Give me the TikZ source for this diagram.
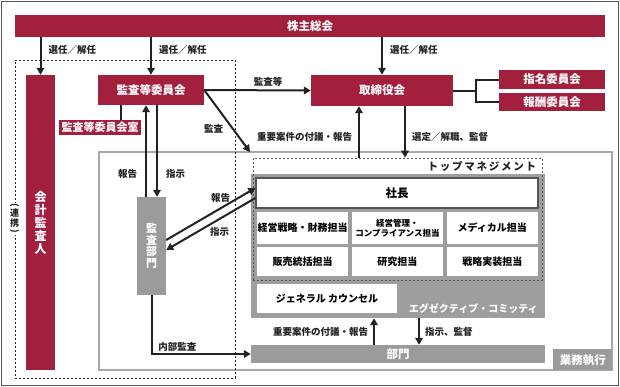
\documentclass[tikz,border=0pt]{standalone}
\usepackage{fontspec}
\usepackage{graphicx}
\setmainfont{Noto Sans CJK JP}
\usetikzlibrary{positioning, arrows.meta, calc}
\definecolor{boardred}{HTML}{A31F3E}
\definecolor{deptgray}{HTML}{9B9B9B}
\definecolor{execgray}{HTML}{9E9E9E}
\definecolor{linegray}{HTML}{A8A8A8}
\definecolor{framegray}{HTML}{555555}
\definecolor{txtblack}{HTML}{222222}
\newcommand{\boxfont}{\fontsize{11.5}{13}\selectfont\bfseries}
\newcommand{\cellfont}{\fontsize{10}{12}\selectfont\bfseries}
\newcommand{\lblfont}{\fontsize{9.5}{11}\selectfont\bfseries}
\newcommand{\vparen}[1]{\rotatebox[origin=c]{-90}{#1}}
\tikzset{
  redbox/.style={fill=boardred, text=white, inner sep=0pt, align=center, font=\boxfont},
  graybox/.style={fill=deptgray, text=white, inner sep=0pt, align=center, font=\boxfont},
  unitcell/.style={fill=white, inner sep=0pt, align=center, minimum width=91pt, font=\cellfont},
  dashbox/.style={draw=txtblack, line width=0.8pt, dash pattern=on 2pt off 2pt, inner sep=0pt},
  arr/.style={-{Triangle[length=7pt, width=7.5pt]}, line width=2pt, draw=txtblack},
  plainline/.style={line width=2pt, draw=txtblack},
  lbl/.style={font=\lblfont, text=txtblack, inner sep=1pt}
}

\begin{document}
\begin{tikzpicture}[x=1pt, y=-1pt]

  \useasboundingbox (0,0) rectangle (620,386);
  \draw[framegray, line width=1pt] (1,1) rectangle (618,385);

  \node[draw=linegray, line width=1.2pt, inner sep=0pt, minimum width=513pt, minimum height=218pt] (gyomuzone) at (355.5,261) {};
  \node[graybox, anchor=south east, minimum width=59pt, minimum height=21pt] (gyomu) at (gyomuzone.south east) {業務執行};

  \node[fill=execgray, inner sep=0pt, minimum width=294pt, minimum height=144pt] (execbox) at (398,246) {};
  \node[font=\cellfont, text=white, anchor=east] at ([xshift=-4pt, yshift=10pt]execbox.south east) {エグゼクティブ・コミッティ};
  \node[dashbox, draw=framegray, minimum width=289pt, minimum height=122pt] (topmgmt) at (397.5,219) {};
  \node[lbl, font=\fontsize{10.5}{12}\selectfont\bfseries, anchor=north east] at ([xshift=-5pt, yshift=-3pt]topmgmt.north east) {ト\,ッ\,プ\,マ\,ネ\,ジ\,メ\,ン\,ト};

  \node[draw=framegray, line width=1.2pt, fill=white, inner sep=0pt, minimum width=282pt, minimum height=30pt, font=\boxfont] (shacho) at (397,193) {社長};
  \node[unitcell, minimum height=32pt] (zaimu) at (302.5,228) {経営戦略・財務担当};
  \node[unitcell, minimum height=32pt, right=3.5pt of zaimu, font=\fontsize{8.5}{10}\selectfont\bfseries] (compli) {経営管理・\\コンプライアンス担当};
  \node[unitcell, minimum height=32pt, right=3.5pt of compli] (medical) {メディカル担当};
  \node[unitcell, minimum height=29pt, below=3pt of zaimu] (hanbai) {販売統括担当};
  \node[unitcell, minimum height=29pt, below=3pt of compli] (kenkyu) {研究担当};
  \node[unitcell, minimum height=29pt, below=3pt of medical] (jisso) {戦略実装担当};
  \node[unitcell, minimum width=140pt, minimum height=29pt] (counsel) at (327,298.5) {ジェネラル\ カウンセル};

  \node[graybox, minimum width=294pt, minimum height=18pt] (bumon) at (398,354) {部門};

  \node[dashbox, minimum width=220pt, minimum height=318pt] (auditzone) at (125,219) {};
  \node[fill=white, inner sep=1pt, align=center, text=txtblack, font=\fontsize{9}{10}\selectfont\bfseries] (renkei) at (auditzone.west) {\vparen{(}\\[-2pt]連\\携\\[-2pt]\vparen{)}};

  \node[redbox, minimum width=590pt, minimum height=22pt] (soukai) at (310,26) {株主総会};
  \node[redbox, minimum width=29pt, minimum height=295pt, font=\fontsize{12}{13}\selectfont\bfseries] (kaikei) at (40.5,222.5) {会\\計\\監\\査\\人};
  \node[redbox, minimum width=106pt, minimum height=30pt] (iinkai) at (151,90) {監査等委員会};
  \node[redbox, minimum width=82pt, minimum height=15pt, font=\fontsize{11}{12}\selectfont\bfseries] (iinshitsu) at (100,127.5) {監査等委員会室};
  \node[redbox, minimum width=142pt, minimum height=31pt] (torishimari) at (382,90.5) {取締役会};
  \node[redbox, minimum width=106pt, minimum height=19pt] (shimei) at (552,79.5) {指名委員会};
  \node[redbox, minimum width=106pt, minimum height=18pt, below=4pt of shimei] (houshu) {報酬委員会};
  \node[graybox, minimum width=29pt, minimum height=98pt, font=\fontsize{11}{11.5}\selectfont\bfseries] (kansabu) at (151.5,246) {監\\査\\部\\門};

  \draw[arr] (soukai.south -| kaikei.center) -- (kaikei.north) node[lbl, pos=0.35, right=6pt] {選任／解任};
  \draw[arr] (soukai.south -| iinkai.center) -- (iinkai.north) node[lbl, pos=0.35, right=6pt] {選任／解任};
  \draw[arr] (soukai.south -| torishimari.center) -- (torishimari.north) node[lbl, pos=0.35, right=6pt] {選任／解任};

  \draw[arr] (iinkai.east) -- (torishimari.west) node[lbl, pos=0.6, above=2pt] {監査等};
  \coordinate (kansaTip) at (250,152);
  \draw[arr] (iinkai.east) -- (kansaTip) node[lbl, pos=0.63, left=8pt] {監査};

  \coordinate (brk) at ($(torishimari.east)+(23,0)$);
  \draw[plainline] (torishimari.east) -- (brk);
  \draw[plainline] (shimei.west) -| (brk) |- (houshu.west);

  \coordinate (shitsuTop) at ([xshift=-30pt]iinkai.south);
  \draw[plainline] (shitsuTop) -- (shitsuTop |- iinshitsu.north);

  \coordinate (teian) at ([xshift=-23pt]torishimari.south);
  \coordinate (sentei) at ([xshift=23pt]torishimari.south);
  \draw[arr] (teian |- topmgmt.north) -- (teian) node[lbl, pos=0.4, left=5pt] {重要案件の付議・報告};
  \draw[arr] (sentei) -- (sentei |- topmgmt.north) node[lbl, pos=0.6, right=5pt] {選定／解職、監督};

  \coordinate (hokokuUp) at ([xshift=-5.5pt]kansabu.north);
  \coordinate (shijiDown) at ([xshift=5.5pt]kansabu.north);
  \draw[arr] (hokokuUp) -- (hokokuUp |- iinkai.south) node[lbl, pos=0.25, left=7pt] {報告};
  \draw[arr] (shijiDown |- iinkai.south) -- (shijiDown) node[lbl, pos=0.75, right=7pt] {指示};

  \draw[arr] ([yshift=6pt]kansabu.east) -- ([yshift=5pt]shacho.west) node[lbl, pos=0.61, above=4pt] {報告};
  \draw[arr] ([yshift=-5pt]shacho.west) -- ([yshift=-4pt]kansabu.east) node[lbl, pos=0.4, below=7pt] {指示};

  \draw[arr] (kansabu.south) |- (bumon.west) node[lbl, pos=0.63, above=1pt] {内部監査};

  \coordinate (fugiUp) at ([xshift=-24pt]bumon.north);
  \coordinate (kantokuDown) at ([xshift=21pt]bumon.north);
  \draw[arr] (fugiUp) -- (fugiUp |- execbox.south) node[lbl, midway, left=4pt] {重要案件の付議・報告};
  \draw[arr] (kantokuDown |- execbox.south) -- (kantokuDown) node[lbl, midway, right=4pt] {指示、監督};

\end{tikzpicture}
\end{document}
